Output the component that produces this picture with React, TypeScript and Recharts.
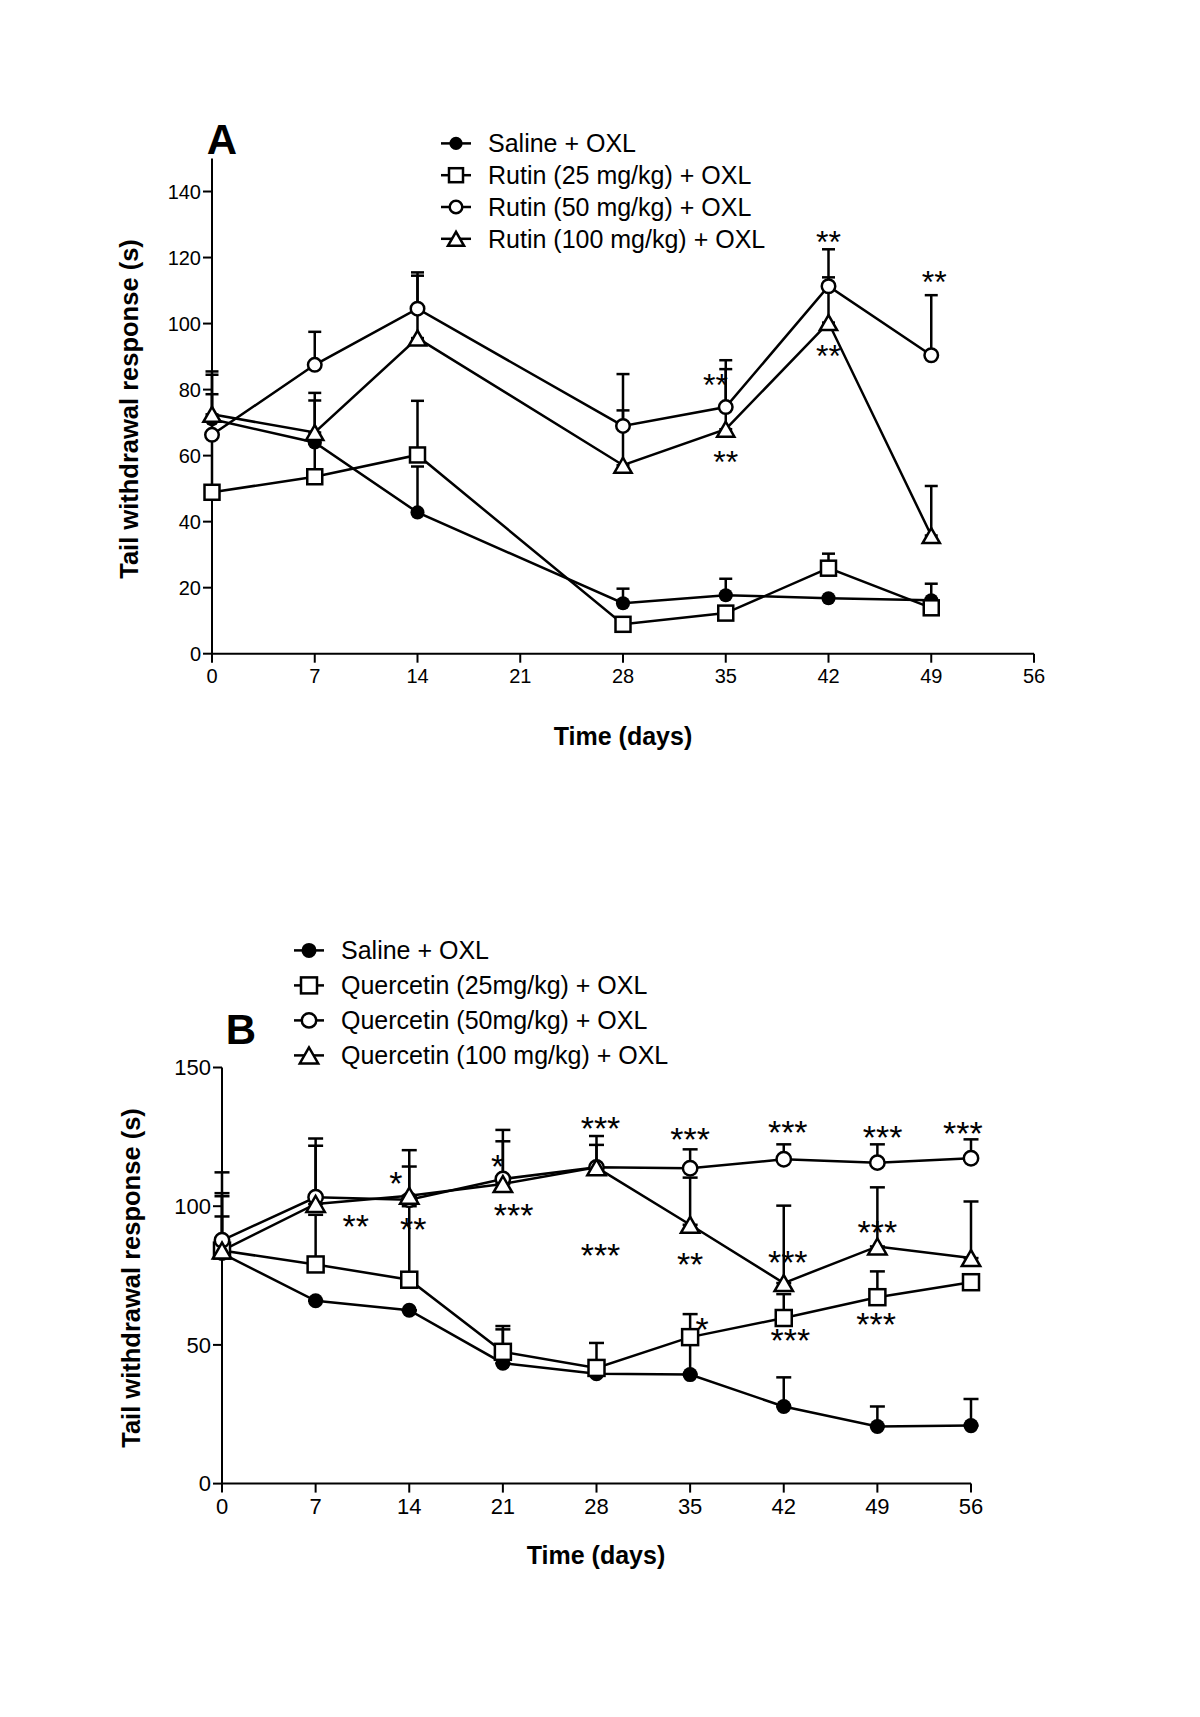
import React from "react";
import { ComposedChart, Line, XAxis, YAxis, ErrorBar, Scatter } from "recharts";

const FONT = '"Liberation Sans", Arial, sans-serif';

// ---- Panel A: Rutin ----
const daysA = [0, 7, 14, 28, 35, 42, 49];
const salineA = [71, 64, 42.8, 15.3, 17.7, 16.8, 16.2];
const salineAErr = [14.5, 12.7, 13.9, 4.4, 5, 0, 5];
const rutin25 = [48.9, 53.6, 60.2, 8.9, 12.3, 25.9, 13.9];
const rutin25Err = [29.7, 10, 16.4, 0, 0, 4.4, 0];
const rutin50 = [66.3, 87.5, 104.5, 69.0, 74.7, 111.3, 90.4];
const rutin50Err = [5, 10, 11, 15.7, 14.2, 11.2, 18.2];
const rutin100 = [72.5, 67, 95.6, 57.1, 68, 100.3, 35.8];
const rutin100Err = [12, 12, 18.9, 16.6, 18.2, 13.7, 15];
const legendA = ["Saline + OXL", "Rutin (25 mg/kg) + OXL", "Rutin (50 mg/kg) + OXL", "Rutin (100 mg/kg) + OXL"];
const yTicksA = [0, 20, 40, 60, 80, 100, 120, 140];
const starsA = [
  { day: 34.3, y: 83.5, text: "**" },
  { day: 35, y: 60.2, text: "**" },
  { day: 42, y: 126.9, text: "**" },
  { day: 42, y: 92.3, text: "**" },
  { day: 49.2, y: 114.8, text: "**" },
];

// ---- Panel B: Quercetin ----
const daysB = [0, 7, 14, 21, 28, 35, 42, 49, 56];
const salineB = [83, 65.9, 62.5, 43.4, 39.6, 39.3, 27.8, 20.6, 20.9];
const salineBErr = [13.3, 0, 0, 12.2, 0, 11, 10.5, 7.2, 9.6];
const querc25 = [84, 79, 73.5, 47.5, 41.7, 52.8, 59.7, 67.2, 72.6];
const querc25Err = [28.2, 17.9, 26.5, 9.3, 9, 8.3, 8.6, 9.3, 0];
const querc50 = [87.7, 103.2, 102.3, 109.8, 114, 113.7, 116.9, 115.7, 117.3];
const querc50Err = [17, 21.2, 12, 17.7, 11.3, 6.8, 5.4, 6.6, 6.8];
const querc100 = [84, 100.8, 103.8, 108, 114, 93.3, 72.3, 85.5, 81.3];
const querc100Err = [19.6, 21, 16.4, 15.4, 8.1, 17, 27.9, 21.3, 20.4];
const legendB = ["Saline + OXL", "Quercetin (25mg/kg) + OXL", "Quercetin (50mg/kg) + OXL", "Quercetin (100 mg/kg) + OXL"];
const yTicksB = [0, 50, 100, 150];
const starsB = [
  { day: 10, y: 95.4, text: "**" },
  { day: 13, y: 111, text: "*" },
  { day: 14.3, y: 94.3, text: "**" },
  { day: 20.6, y: 117, text: "*" },
  { day: 21.8, y: 99.6, text: "***" },
  { day: 28.3, y: 130.7, text: "***" },
  { day: 28.3, y: 85, text: "***" },
  { day: 35, y: 126.9, text: "***" },
  { day: 35, y: 81.9, text: "**" },
  { day: 35.9, y: 58.5, text: "*" },
  { day: 42.3, y: 129.3, text: "***" },
  { day: 42.3, y: 82.5, text: "***" },
  { day: 42.5, y: 54.3, text: "***" },
  { day: 49.4, y: 127.7, text: "***" },
  { day: 49, y: 93.3, text: "***" },
  { day: 48.9, y: 60.2, text: "***" },
  { day: 55.4, y: 128.9, text: "***" },
];

const xTicks = [0, 7, 14, 21, 28, 35, 42, 49, 56];
const shapes = ["dot", "square", "circle", "triangle"];

const build = (days: number[], vals: number[], errs: number[]) =>
  days.map((d, i) => ({ day: d, v: vals[i], err: [0, errs[i]] }));

const Marker = ({ shape, cx, cy, s }: any) => {
  if (cx == null || cy == null) return null;
  if (shape === "dot") return <circle cx={cx} cy={cy} r={s * 0.47} fill="#000" />;
  if (shape === "circle")
    return <circle cx={cx} cy={cy} r={s * 0.45} fill="#fff" stroke="#000" strokeWidth={2.5} />;
  if (shape === "square")
    return <rect x={cx - s / 2} y={cy - s / 2} width={s} height={s} fill="#fff" stroke="#000" strokeWidth={2.5} />;
  const w = s * 1.15, h = s;
  return (
    <polygon
      points={`${cx},${cy - h / 2} ${cx - w / 2},${cy + h / 2} ${cx + w / 2},${cy + h / 2}`}
      fill="#fff" stroke="#000" strokeWidth={2.5} strokeLinejoin="miter"
    />
  );
};

const Panel = ({ top, height, margin, series, yTicks, stars, tickFont, size, cap, starFont }: any) => (
  <div style={{ position: "absolute", left: 0, top, width: 1200, height }}>
    <ComposedChart width={1200} height={height} margin={margin} style={{ overflow: "visible" }}>
      <XAxis
        type="number" dataKey="day" domain={[0, 56]} ticks={xTicks}
        height={40} tickSize={9} tickMargin={6}
        axisLine={{ stroke: "#000", strokeWidth: 2 }}
        tickLine={{ stroke: "#000", strokeWidth: 2 }}
        tick={{ fill: "#000", fontSize: tickFont, fontFamily: FONT }}
      />
      <YAxis
        type="number" domain={[0, 150]} ticks={yTicks}
        width={60} tickSize={9} tickMargin={2}
        axisLine={{ stroke: "#000", strokeWidth: 2 }}
        tickLine={{ stroke: "#000", strokeWidth: 2 }}
        tick={{ fill: "#000", fontSize: tickFont, fontFamily: FONT }}
      />
      {series.map((sr: any, k: number) => (
        <Line
          key={k} data={sr.data} dataKey="v" stroke="#000" strokeWidth={2.5}
          isAnimationActive={false}
          dot={(p: any) => <Marker key={`m-${k}-${p.index}`} shape={shapes[k]} cx={p.cx} cy={p.cy} s={size} />}
          activeDot={false}
        >
          <ErrorBar dataKey="err" direction="y" width={cap} stroke="#000" strokeWidth={2.5} isAnimationActive={false} />
        </Line>
      ))}
      <Scatter
        data={stars} dataKey="y" isAnimationActive={false}
        shape={(p: any) => (
          <text x={p.cx} y={p.cy + starFont * 0.57} textAnchor="middle" fontSize={starFont} fontFamily={FONT} fill="#000">
            {p.payload.text}
          </text>
        )}
      />
    </ComposedChart>
  </div>
);

const Legend = ({ x, y, gap, labels, size }: any) => (
  <g>
    {labels.map((l: string, i: number) => (
      <g key={l}>
        <line x1={x - 15} x2={x + 15} y1={y + i * gap} y2={y + i * gap} stroke="#000" strokeWidth={2.5} />
        <Marker shape={shapes[i]} cx={x} cy={y + i * gap} s={size} />
        <text x={x + 32} y={y + i * gap + 9} fontSize={25} fontFamily={FONT} fill="#000">{l}</text>
      </g>
    ))}
  </g>
);

export default function App() {
  const seriesA = [
    { data: build(daysA, salineA, salineAErr) },
    { data: build(daysA, rutin25, rutin25Err) },
    { data: build(daysA, rutin50, rutin50Err) },
    { data: build(daysA, rutin100, rutin100Err) },
  ];
  const seriesB = [
    { data: build(daysB, salineB, salineBErr) },
    { data: build(daysB, querc25, querc25Err) },
    { data: build(daysB, querc50, querc50Err) },
    { data: build(daysB, querc100, querc100Err) },
  ];
  return (
    <div style={{ position: "absolute", left: 0, top: 0, width: 1200, height: 1717, background: "#fff", fontFamily: FONT }}>
      <Panel
        top={0} height={700} margin={{ top: 158.5, right: 166, bottom: 6.3, left: 152 }}
        series={seriesA} yTicks={yTicksA} stars={starsA} tickFont={20} size={15} cap={6.5} starFont={32}
      />
      <Panel
        top={1000} height={530} margin={{ top: 67.5, right: 229, bottom: 6.4, left: 162 }}
        series={seriesB} yTicks={yTicksB} stars={starsB} tickFont={22} size={16} cap={7.5} starFont={34}
      />
      <svg width={1200} height={1717} style={{ position: "absolute", left: 0, top: 0, pointerEvents: "none" }}>
        <text x={222} y={154} textAnchor="middle" fontSize={42} fontWeight="bold" fontFamily={FONT}>A</text>
        <text x={241} y={1044} textAnchor="middle" fontSize={42} fontWeight="bold" fontFamily={FONT}>B</text>
        <Legend x={456} y={143.4} gap={31.8} labels={legendA} size={14} />
        <Legend x={309} y={950.4} gap={35} labels={legendB} size={16} />
        <text transform="translate(138,409) rotate(-90)" textAnchor="middle" fontSize={25.5} fontWeight="bold" fontFamily={FONT}>
          Tail withdrawal response (s)
        </text>
        <text transform="translate(140,1278) rotate(-90)" textAnchor="middle" fontSize={25.5} fontWeight="bold" fontFamily={FONT}>
          Tail withdrawal response (s)
        </text>
        <text x={623} y={745} textAnchor="middle" fontSize={25} fontWeight="bold" fontFamily={FONT}>Time (days)</text>
        <text x={596} y={1564} textAnchor="middle" fontSize={25} fontWeight="bold" fontFamily={FONT}>Time (days)</text>
      </svg>
    </div>
  );
}
